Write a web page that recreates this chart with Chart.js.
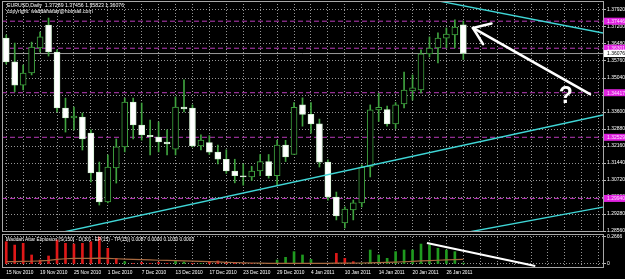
<!DOCTYPE html>
<html>
<head>
<meta charset="utf-8">
<script src="https://cdn.jsdelivr.net/npm/chart.js@4.4.1/dist/chart.umd.min.js"></script>
<style>
html,body{margin:0;padding:0;background:#000;}
body{width:625px;height:279px;overflow:hidden;position:relative;}
canvas{position:absolute;left:0;display:block;}
#mainC{top:0;}
#indC{top:233px;}
</style>
</head>
<body>
<canvas id="mainC" width="625" height="233"></canvas>
<canvas id="indC" width="625" height="46"></canvas>
<script>
// ---------------- data ----------------
const dates = ["15 Nov 2010","16 Nov 2010","17 Nov 2010","18 Nov 2010","19 Nov 2010",
 "22 Nov 2010","23 Nov 2010","24 Nov 2010","25 Nov 2010","26 Nov 2010",
 "29 Nov 2010","30 Nov 2010","1 Dec 2010","2 Dec 2010","3 Dec 2010",
 "6 Dec 2010","7 Dec 2010","8 Dec 2010","9 Dec 2010","10 Dec 2010",
 "13 Dec 2010","14 Dec 2010","15 Dec 2010","16 Dec 2010","17 Dec 2010",
 "20 Dec 2010","21 Dec 2010","22 Dec 2010","23 Dec 2010","24 Dec 2010",
 "27 Dec 2010","28 Dec 2010","29 Dec 2010","30 Dec 2010","31 Dec 2010",
 "3 Jan 2011","4 Jan 2011","5 Jan 2011","6 Jan 2011","7 Jan 2011",
 "10 Jan 2011","11 Jan 2011","12 Jan 2011","13 Jan 2011","14 Jan 2011",
 "17 Jan 2011","18 Jan 2011","19 Jan 2011","20 Jan 2011","21 Jan 2011",
 "24 Jan 2011","25 Jan 2011","26 Jan 2011","27 Jan 2011","28 Jan 2011"];

const opens  = [1.3673,1.3572,1.3474,1.3525,1.3631, 1.3728,1.3614,1.3377,1.3335,1.3339,
 1.3271,1.3106,1.2979,1.3123,1.3212, 1.3402,1.3305,1.3261,1.3254,1.3233,
 1.3203,1.3381,1.3377,1.3216,1.3230, 1.3190,1.3160,1.3110,1.3090,1.3085,
 1.3110,1.3150,1.3090,1.3220,1.3180, 1.3390,1.3350,1.3310,1.3148,1.3000,
 1.2890,1.2945,1.2975,1.3127,1.3369, 1.3370,1.3310,1.3394,1.3449,1.3453,
 1.3606,1.3631,1.3673,1.3686,1.37289];
const highs  = [1.3686,1.3652,1.3559,1.3656,1.3699, 1.3758,1.3623,1.3419,1.3381,1.3356,
 1.3284,1.3148,1.3178,1.3246,1.3419, 1.3419,1.3398,1.3326,1.3318,1.3284,
 1.3424,1.3496,1.3390,1.3263,1.3260, 1.3220,1.3200,1.3160,1.3140,1.3130,
 1.3180,1.3180,1.3240,1.3240,1.3400, 1.3420,1.3400,1.3330,1.3157,1.3021,
 1.2958,1.2987,1.3136,1.3390,1.3440, 1.3385,1.3400,1.3529,1.3517,1.3623,
 1.3678,1.3695,1.3716,1.3750,1.37456];
const lows   = [1.3563,1.3445,1.3453,1.3517,1.3614, 1.3597,1.3360,1.3275,1.3284,1.3199,
 1.3064,1.2966,1.2975,1.3059,1.3191, 1.3246,1.3241,1.3178,1.3191,1.3178,
 1.3178,1.3360,1.3212,1.3199,1.3180, 1.3140,1.3100,1.3060,1.3050,1.3070,
 1.3090,1.3080,1.3050,1.3150,1.3180, 1.3300,1.3270,1.3127,1.2987,1.2903,
 1.2869,1.2903,1.2958,1.3085,1.3320, 1.3300,1.3290,1.3377,1.3411,1.3441,
 1.3593,1.3568,1.3631,1.3631,1.35823];
const closes = [1.3572,1.3474,1.3525,1.3635,1.3678, 1.3614,1.3377,1.3335,1.3343,1.3246,
 1.3102,1.2979,1.3127,1.3212,1.3402, 1.3305,1.3263,1.3256,1.3233,1.3225,
 1.3381,1.3373,1.3216,1.3241,1.3190, 1.3160,1.3110,1.3090,1.3085,1.3110,
 1.3150,1.3090,1.3220,1.3170,1.3380, 1.3350,1.3310,1.3148,1.3000,1.2920,
 1.2949,1.2975,1.3127,1.3369,1.3380, 1.3310,1.3390,1.3453,1.3462,1.3606,
 1.3631,1.3673,1.3690,1.3720,1.36076];

const priceTicks = [1.37920,1.37200,1.36480,1.35760,1.35040,1.34320,1.33600,
 1.32880,1.32160,1.31440,1.30720,1.30000,1.29280,1.28560];
const levelLines = [1.37446,1.36301,1.34417,1.32529,1.29940];
const bidPrice = 1.36076;

// trend lines: [index, price] pairs
const trendLines = [
  [[51.0,1.38310],[70.5,1.36946]],
  [[6.8,1.28518],[70.5,1.33473]],
  [[54.67,1.28518],[70.5,1.29576]]
];
const arrowTail = [68.96,1.34362];
const arrowTip  = [55.14,1.37158];
const noteAt    = [66.1,1.34235];

// Waddah Attar Explosion
const trendUp = [null,null,null,null,null, null,null,null,null,null,
 null,null,null,null,0.023, null,null,null,null,null,
 0.033,0.020,null,0.004,null, null,null,null,null,null,
 0.004,0.004,0.039,0.066,0.122, 0.089,0.045,null,null,null,
 null,null,0.007,0.138,0.089, 0.056,0.122,0.138,0.138,0.197,
 0.188,0.155,0.138,0.122,0.0087];
const trendDown = [0.220,0.187,0.204,0.089,0.039, 0.079,0.237,0.204,0.197,0.204,
 0.220,0.266,0.155,0.056,null, 0.004,0.016,0.007,0.016,0.007,
 null,null,0.007,null,0.023, 0.030,0.016,0.007,0.004,0.004,
 null,null,null,null,null, null,null,0.004,0.007,0.105,
 0.056,0.023,null,null,null, null,null,null,null,null,
 null,null,null,null,null];
const explosion = [0.023,0.023,0.025,0.027,0.030, 0.035,0.045,0.052,0.056,0.056,
 0.056,0.058,0.056,0.052,0.049, 0.046,0.043,0.040,0.037,0.035,
 0.033,0.030,0.028,0.025,0.023, 0.020,0.017,0.015,0.012,0.010,
 0.008,0.007,0.007,0.007,0.007, 0.007,0.007,0.007,0.007,0.008,
 0.008,0.009,0.010,0.012,0.014, 0.016,0.019,0.022,0.026,0.030,
 0.034,0.037,0.041,0.044,0.046];
const indTicks = [0, 0.2666];
const indNote = [[49.7,0.207],[62.5,-0.02]];

const headerText1 = "EURUSD,Daily  1.37289 1.37456 1.35823 1.36076";
const headerText2 = "copyright: waddahattar@hotmail.com";
const indTitle = "Waddah Attar Explosion [S(150) - D(30) - EP(15) - TP(15)] 0.0087 0.0000 0.1030 0.0003";

// ---------------- layout / style ----------------
const X_MIN = -0.5, X_MAX = 70.5;
const Y_MIN = 1.28518, Y_MAX = 1.38301;
const I_MIN = -0.0395, I_MAX = 0.2962;
const gridSlots = [];
for (let k = 0; k <= 70; k += 2) gridSlots.push(k);
const FONT = '"Liberation Sans", Arial, sans-serif';
const GRID = '#969696';
const FRAME = '#a8a8a8';

// ---------------- main chart ----------------
const wickData = dates.map((d,i)=>({x:i, y:[lows[i], highs[i]]}));
const bodyData = dates.map((d,i)=>({x:i, y:[Math.min(opens[i],closes[i]), Math.max(opens[i],closes[i])]}));
const bull = dates.map((d,i)=>closes[i] > opens[i]);

const lineDs = (pts, color, width, dash, order) => ({
  type:'line', data: pts.map(p=>({x:p[0], y:p[1]})), borderColor: color, borderWidth: width,
  borderDash: dash || [], pointRadius: 0, tension: 0, order: order, fill:false
});

const mainDatasets = [
  { type:'bar', data: bodyData, grouped:false, barThickness:6, minBarLength:1,
    backgroundColor: c => bull[c.dataIndex] ? '#000000' : '#ffffff',
    borderColor: c => bull[c.dataIndex] ? '#3fa33f' : '#d6f2d6',
    borderWidth:1, borderSkipped:false, order:2 },
  { type:'bar', data: wickData, grouped:false, barThickness:1,
    backgroundColor:'#3fa33f', borderWidth:0, order:3 }
];
levelLines.forEach(v => mainDatasets.push(lineDs([[X_MIN,v],[X_MAX,v]], '#b83ab8', 1, [5,3], 4)));
mainDatasets.push(lineDs([[X_MIN,bidPrice],[X_MAX,bidPrice]], '#9a9a9a', 1, [], 4));
trendLines.forEach(t => mainDatasets.push(lineDs(t, '#3fd6d6', 1.3, [], 1)));

function fillLabel(c, x, y, w, h, bg, fg, text, font) {
  c.fillStyle = bg; c.fillRect(x, y - h/2, w, h);
  c.fillStyle = fg; c.font = font; c.textAlign = 'left'; c.textBaseline = 'middle';
  c.fillText(text, x + 3, y + 0.5);
}

const mainOverlay = {
  id:'mainOverlay',
  afterDatasetsDraw(chart) {
    const c = chart.ctx, a = chart.chartArea, xs = chart.scales.x, ys = chart.scales.y;
    c.save();
    c.beginPath(); c.rect(a.left, a.top, a.right - a.left, a.bottom - a.top); c.clip();
    const tx = xs.getPixelForValue(arrowTip[0]), ty = ys.getPixelForValue(arrowTip[1]);
    const bx = xs.getPixelForValue(arrowTail[0]), by = ys.getPixelForValue(arrowTail[1]);
    c.strokeStyle = '#ffffff'; c.lineWidth = 2.6; c.lineCap = 'round';
    c.beginPath(); c.moveTo(bx, by); c.lineTo(tx, ty); c.stroke();
    const ang = Math.atan2(by - ty, bx - tx);
    [-0.75, 0.5].forEach(d => {
      c.beginPath(); c.moveTo(tx, ty);
      c.lineTo(tx + 19*Math.cos(ang + d), ty + 19*Math.sin(ang + d)); c.stroke();
    });
    const qx = xs.getPixelForValue(noteAt[0]), qy = ys.getPixelForValue(noteAt[1]);
    c.fillStyle = '#ffffff'; c.font = 'bold 23px ' + FONT; c.textAlign = 'center'; c.textBaseline = 'middle';
    c.fillText('?', qx, qy);
    c.restore();
  },
  afterDraw(chart) {
    const c = chart.ctx, a = chart.chartArea, ys = chart.scales.y;
    c.save();
    c.strokeStyle = FRAME; c.lineWidth = 1;
    c.strokeRect(a.left + 0.5, a.top + 0.5, a.right - a.left, a.bottom - a.top - 1);
    c.fillStyle = '#ffffff'; c.font = '5.2px ' + FONT; c.textAlign = 'left'; c.textBaseline = 'middle';
    c.fillText(headerText1, 7, 6);
    c.fillText(headerText2, 7, 12);
    const f = '5px ' + FONT;
    levelLines.forEach(v => fillLabel(c, 604, ys.getPixelForValue(v), 21, 7, '#e022e0', '#ffd8ff', v.toFixed(5), f));
    fillLabel(c, 604, ys.getPixelForValue(bidPrice), 21, 7, '#ffffff', '#000000', bidPrice.toFixed(5), f);
    c.restore();
  }
};

new Chart(document.getElementById('mainC'), {
  type:'bar',
  data:{ datasets: mainDatasets },
  options:{
    responsive:false, animation:false, devicePixelRatio:1,
    layout:{ padding:{ left:2, top:1, right:0, bottom:1 } },
    plugins:{ legend:{display:false}, tooltip:{enabled:false} },
    scales:{
      x:{ type:'linear', min:X_MIN, max:X_MAX, offset:false,
          afterBuildTicks: s => { s.ticks = gridSlots.map(v=>({value:v})); },
          afterFit: s => { s.height = 0; s.paddingLeft = 0; s.paddingRight = 0; },
          ticks:{ display:false },
          grid:{ color:GRID, drawTicks:false, offset:false, lineWidth:1 },
          border:{ display:false, dash:[1,2] } },
      y:{ type:'linear', position:'right', min:Y_MIN, max:Y_MAX,
          afterBuildTicks: s => { s.ticks = priceTicks.map(v=>({value:v})); s.min = Y_MIN; s.max = Y_MAX; },
          afterFit: s => { s.width = 22; s.paddingTop = 0; s.paddingBottom = 0; },
          ticks:{ color:'#ffffff', font:{ family:FONT, size:5 }, padding:1, autoSkip:false,
                  callback: v => Number(v).toFixed(5) },
          grid:{ color:GRID, drawTicks:true, tickLength:3, tickColor:'#bbbbbb', lineWidth:1 },
          border:{ display:false, dash:[1,2] } }
    }
  },
  plugins:[mainOverlay]
});

// ---------------- indicator chart ----------------
const upData = trendUp.map((v,i)=>({x:i, y:v})).filter(p=>p.y!==null);
const dnData = trendDown.map((v,i)=>({x:i, y:v})).filter(p=>p.y!==null);

const indOverlay = {
  id:'indOverlay',
  afterDraw(chart) {
    const c = chart.ctx, a = chart.chartArea;
    c.save();
    c.strokeStyle = FRAME; c.lineWidth = 1;
    c.strokeRect(a.left + 0.5, a.top + 0.5, a.right - a.left, a.bottom - a.top - 1);
    c.fillStyle = '#ffffff'; c.font = '4.8px ' + FONT; c.textAlign = 'left'; c.textBaseline = 'middle';
    c.fillText(indTitle, 6, 7);
    c.restore();
  }
};

new Chart(document.getElementById('indC'), {
  type:'bar',
  data:{ datasets:[
    { type:'bar', data: upData, grouped:false, barThickness:2, backgroundColor:'#1f9a1f', order:3 },
    { type:'bar', data: dnData, grouped:false, barThickness:2, backgroundColor:'#e01818', order:3 },
    { type:'line', data: explosion.map((v,i)=>({x:i, y:v})), borderColor:'#a86a40', borderWidth:1.2,
      pointRadius:0, tension:0, order:2 },
    { type:'line', data: indNote.map(p=>({x:p[0], y:p[1]})), borderColor:'#ffffff', borderWidth:2.2,
      pointRadius:0, tension:0, order:1 }
  ]},
  options:{
    responsive:false, animation:false, devicePixelRatio:1,
    layout:{ padding:{ left:2, top:1, right:0, bottom:0 } },
    plugins:{ legend:{display:false}, tooltip:{enabled:false} },
    scales:{
      x:{ type:'linear', min:X_MIN, max:X_MAX, offset:false,
          afterBuildTicks: s => { s.ticks = gridSlots.map(v=>({value:v})); },
          afterFit: s => { s.height = 11; s.paddingLeft = 0; s.paddingRight = 0; },
          ticks:{ display:true, autoSkip:false, maxRotation:0, minRotation:0, align:'start',
                  color:'#ffffff', font:{ family:FONT, size:4.8 }, padding:2,
                  callback: v => (v % 4 === 0 && v < dates.length) ? dates[v] : '' },
          grid:{ color:GRID, drawTicks:false, offset:false, lineWidth:1 },
          border:{ display:false, dash:[1,2] } },
      y:{ type:'linear', position:'right', min:I_MIN, max:I_MAX,
          afterBuildTicks: s => { s.ticks = indTicks.map(v=>({value:v})); s.min = I_MIN; s.max = I_MAX; },
          afterFit: s => { s.width = 22; s.paddingTop = 0; s.paddingBottom = 0; },
          ticks:{ color:'#ffffff', font:{ family:FONT, size:5 }, padding:1, autoSkip:false,
                  callback: v => v === 0 ? '0' : Number(v).toFixed(4) },
          grid:{ color:GRID, drawTicks:true, tickLength:3, tickColor:'#bbbbbb', lineWidth:1 },
          border:{ display:false, dash:[1,2] } }
    }
  },
  plugins:[indOverlay]
});
</script>
</body>
</html>
